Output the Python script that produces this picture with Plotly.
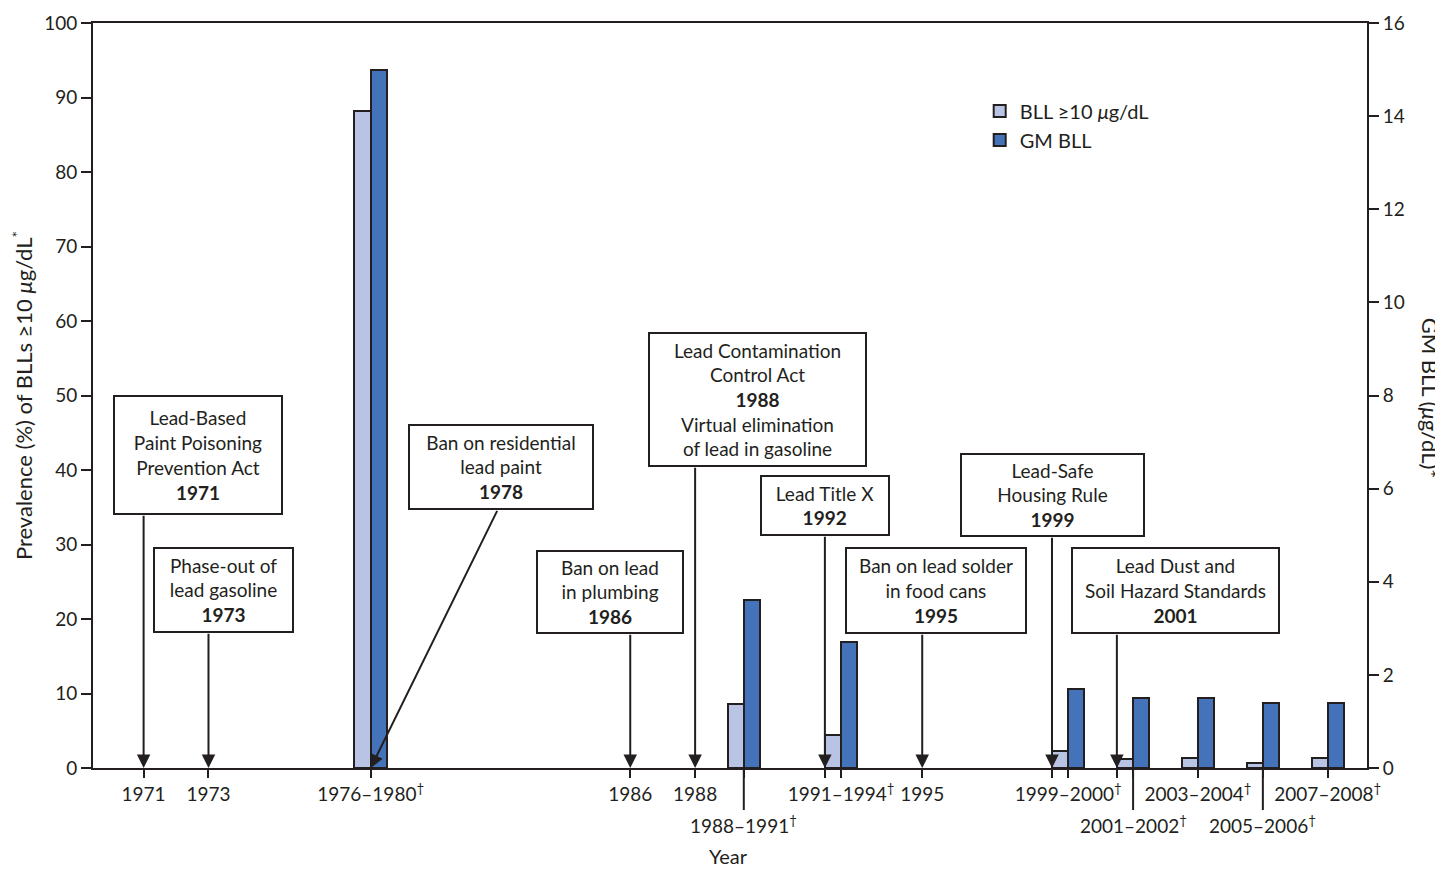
import plotly.graph_objects as go

# ---------------- data ----------------
survey_periods = ["1976–1980", "1988–1991", "1991–1994", "1999–2000",
                  "2001–2002", "2003–2004", "2005–2006", "2007–2008"]
survey_start = [1976, 1988, 1991, 1999, 2001, 2003, 2005, 2007]
survey_end = [1980, 1991, 1994, 2000, 2002, 2004, 2006, 2008]
prevalence_pct = [88.2, 8.6, 4.4, 2.3, 1.2, 1.4, 0.7, 1.3]   # BLL >=10 ug/dL (%)
gm_bll = [15.0, 3.6, 2.7, 1.7, 1.5, 1.5, 1.4, 1.4]           # GM BLL (ug/dL)
survey_label_row = ["upper", "lower", "upper", "upper", "lower", "upper", "lower", "upper"]

event_years = [1971, 1973, 1978, 1986, 1988, 1992, 1995, 1999, 2001]
event_texts = [
    "Lead-Based<br>Paint Poisoning<br>Prevention Act<br><b>1971</b>",
    "Phase-out of<br>lead gasoline<br><b>1973</b>",
    "Ban on residential<br>lead paint<br><b>1978</b>",
    "Ban on lead<br>in plumbing<br><b>1986</b>",
    "Lead Contamination<br>Control Act<br><b>1988</b><br>Virtual elimination<br>of lead in gasoline",
    "Lead Title X<br><b>1992</b>",
    "Ban on lead solder<br>in food cans<br><b>1995</b>",
    "Lead-Safe<br>Housing Rule<br><b>1999</b>",
    "Lead Dust and<br>Soil Hazard Standards<br><b>2001</b>",
]
event_axis_labels = ["1971", "1973", "", "1986", "1988", "", "1995", "", ""]

# ---------------- layout helpers (positions, not data) ----------------
# box: (center year, center %, width px, height px, bottom %, arrow tail year)
box_layout = [
    (1972.69, 41.97, 168, 118, 34.05, 1971),
    (1973.47, 23.85, 139, 84, 18.21, 1973),
    (1982.02, 40.36, 184, 84, 34.72, 1981.92),
    (1985.38, 23.58, 146, 82, 18.08, 1986),
    (1989.93, 49.42, 217, 133, 40.50, 1988),
    (1992.01, 35.20, 128, 59, 31.23, 1992),
    (1995.43, 23.79, 180, 85, 18.08, 1995),
    (1999.02, 36.60, 183, 82, 31.10, 1999),
    (2002.81, 23.79, 207, 85, 18.08, 2001),
]

INK = "#231f20"
LIGHT = "#b9c4e4"
DARK = "#4573b9"
FONT = "Lato"

survey_mid = [(s + e) / 2 for s, e in zip(survey_start, survey_end)]

fig = go.Figure()
fig.add_trace(go.Bar(
    x=survey_mid, y=prevalence_pct, width=0.5, offset=-0.5,
    name="BLL ≥10 <i>μ</i>g/dL", marker=dict(color=LIGHT, line=dict(color=INK, width=2)),
    yaxis="y", hovertext=survey_periods,
))
fig.add_trace(go.Bar(
    x=survey_mid, y=gm_bll, width=0.5, offset=0,
    name="GM BLL", marker=dict(color=DARK, line=dict(color=INK, width=2)),
    yaxis="y2", hovertext=survey_periods,
))

# ticks
tickvals, ticktext = [], []
for yv, lab in zip(event_years, event_axis_labels):
    tickvals.append(yv)
    ticktext.append(lab)
for m, p, row in zip(survey_mid, survey_periods, survey_label_row):
    lab = p + "<sup>†</sup>" if row == "upper" else ""
    if m in tickvals:
        ticktext[tickvals.index(m)] = lab
    else:
        tickvals.append(m)
        ticktext.append(lab)

annotations = []
shapes = []
# event boxes and arrows
for (cx, cy, w, h, bottom, tailx), txt, yr in zip(box_layout, event_texts, event_years):
    annotations.append(dict(
        x=cx, y=cy, xref="x", yref="y", text=txt, showarrow=False,
        xanchor="center", yanchor="middle", width=w - 2, height=h - 2,
        align="center", valign="middle", bordercolor=INK, borderwidth=2, borderpad=0,
        bgcolor="white", font=dict(family=FONT, size=19, color=INK),
    ))
    annotations.append(dict(
        x=yr, y=0, xref="x", yref="y", ax=tailx, ay=bottom, axref="x", ayref="y",
        text="", showarrow=True, arrowhead=2, arrowsize=1.35, arrowwidth=2,
        arrowcolor=INK, standoff=0, startstandoff=0,
    ))

# lower-row survey labels with long ticks
for m, p, row in zip(survey_mid, survey_periods, survey_label_row):
    if row == "lower":
        shapes.append(dict(type="line", xref="x", yref="paper", x0=m, x1=m,
                           y0=0, y1=-0.0564, line=dict(color=INK, width=2)))
        annotations.append(dict(
            x=m, y=-0.0752, xref="x", yref="paper", text=p + "<sup>†</sup>",
            showarrow=False, xanchor="center", yanchor="middle",
            font=dict(family=FONT, size=19, color=INK),
        ))

# x axis title
annotations.append(dict(
    x=0.499, y=-0.1181, xref="paper", yref="paper", text="Year",
    showarrow=False, xanchor="center", yanchor="middle",
    font=dict(family=FONT, size=20, color=INK),
))
# right axis title (reads top to bottom)
annotations.append(dict(
    x=1.0495, y=0.497, xref="paper", yref="paper", text="GM BLL (<i>μ</i>g/dL)*",
    showarrow=False, textangle=90, xanchor="center", yanchor="middle",
    font=dict(family=FONT, size=22, color=INK),
))

fig.update_layout(
    width=1435, height=861,
    margin=dict(l=85, r=76, t=15, b=101, autoexpand=False),
    plot_bgcolor="white", paper_bgcolor="white",
    barmode="overlay", bargap=0,
    font=dict(family=FONT, size=19, color=INK),
    xaxis=dict(
        range=[1969.44, 2008.71], tickmode="array", tickvals=tickvals, ticktext=ticktext,
        ticks="outside", ticklen=8, tickwidth=2, tickcolor=INK,
        showline=True, linecolor=INK, linewidth=2, mirror=True,
        showgrid=False, zeroline=False, automargin=False,
        tickfont=dict(family=FONT, size=19, color=INK),
    ),
    yaxis=dict(
        range=[0, 100], dtick=10, ticks="outside", ticklen=10, tickwidth=2, tickcolor=INK,
        showline=True, linecolor=INK, linewidth=2, showgrid=False, zeroline=False,
        automargin=False,
        tickfont=dict(family=FONT, size=19, color=INK),
        title=dict(text="Prevalence (%) of BLLs ≥10 <i>μ</i>g/dL<sup>*</sup>",
                   font=dict(family=FONT, size=22, color=INK), standoff=8),
    ),
    yaxis2=dict(
        range=[0, 16], dtick=2, overlaying="y", side="right",
        ticks="outside", ticklen=10, tickwidth=2, tickcolor=INK,
        showline=True, linecolor=INK, linewidth=2, showgrid=False, zeroline=False,
        automargin=False,
        tickfont=dict(family=FONT, size=19, color=INK),
    ),
    legend=dict(x=0.696, y=0.908, xanchor="left", yanchor="top",
                font=dict(family=FONT, size=20, color=INK), bgcolor="rgba(0,0,0,0)",
                tracegroupgap=0),
    annotations=annotations, shapes=shapes,
    showlegend=True,
)

fig.write_html("out.html")
